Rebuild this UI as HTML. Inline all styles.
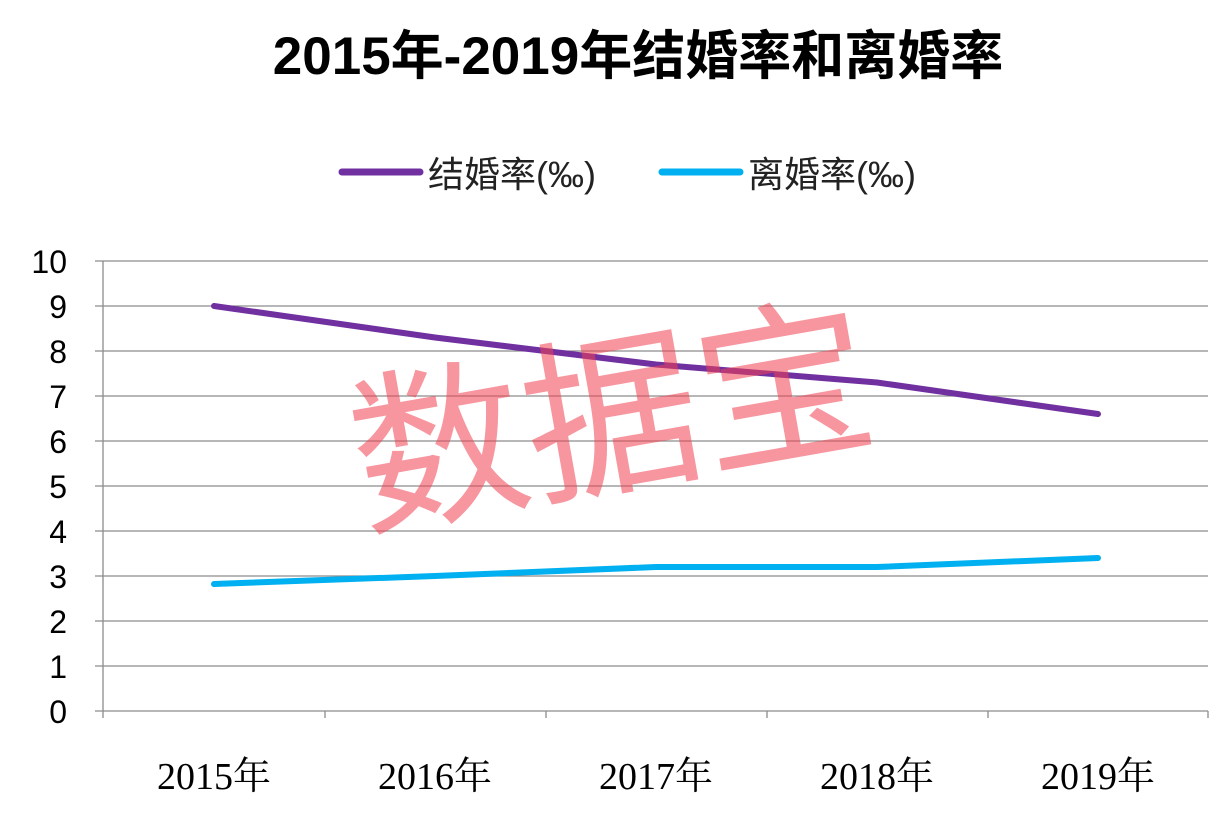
<!DOCTYPE html>
<html><head><meta charset="utf-8"><style>
body{margin:0;background:#fff;}
svg{display:block;}
</style></head><body>
<svg width="1224" height="818" xmlns="http://www.w3.org/2000/svg">
<rect width="1224" height="818" fill="#fff"/>
<text x="638" y="74" text-anchor="middle" font-family="Liberation Sans, Noto Sans CJK SC, sans-serif" font-weight="bold" font-size="53" fill="#000">2015年-2019年结婚率和离婚率</text>
<line x1="342" y1="172" x2="420" y2="172" stroke="#7030a0" stroke-width="7" stroke-linecap="round"/>
<text x="428" y="187" font-family="Liberation Sans, Noto Sans CJK SC, sans-serif" font-size="36" fill="#222">结婚率(‰)</text>
<line x1="662" y1="172" x2="740" y2="172" stroke="#00b0f0" stroke-width="7" stroke-linecap="round"/>
<text x="748" y="187" font-family="Liberation Sans, Noto Sans CJK SC, sans-serif" font-size="36" fill="#222">离婚率(‰)</text>
<g stroke="#8c8c8c" stroke-width="1.3">
<line x1="95" y1="261" x2="1208" y2="261"/><line x1="95" y1="306" x2="1208" y2="306"/>
<line x1="95" y1="351" x2="1208" y2="351"/><line x1="95" y1="396" x2="1208" y2="396"/>
<line x1="95" y1="441" x2="1208" y2="441"/><line x1="95" y1="486" x2="1208" y2="486"/>
<line x1="95" y1="531" x2="1208" y2="531"/><line x1="95" y1="576" x2="1208" y2="576"/>
<line x1="95" y1="621" x2="1208" y2="621"/><line x1="95" y1="666" x2="1208" y2="666"/>
<line x1="95" y1="711" x2="1208" y2="711"/>
<line x1="103" y1="261" x2="103" y2="718"/>
<line x1="325" y1="711" x2="325" y2="718"/><line x1="546" y1="711" x2="546" y2="718"/>
<line x1="767" y1="711" x2="767" y2="718"/><line x1="988" y1="711" x2="988" y2="718"/>
<line x1="1208" y1="711" x2="1208" y2="718"/>
</g>
<g font-family="Liberation Sans, sans-serif" font-size="32" fill="#000" text-anchor="end">
<text x="67" y="273">10</text><text x="67" y="318">9</text><text x="67" y="363">8</text>
<text x="67" y="408">7</text><text x="67" y="453">6</text><text x="67" y="498">5</text>
<text x="67" y="543">4</text><text x="67" y="588">3</text><text x="67" y="633">2</text>
<text x="67" y="678">1</text><text x="67" y="723">0</text>
</g>
<g font-family="Liberation Serif, Noto Serif CJK SC, serif" font-size="38" fill="#000" text-anchor="middle">
<text x="214" y="789">2015年</text><text x="435" y="789">2016年</text><text x="656" y="789">2017年</text>
<text x="877" y="789">2018年</text><text x="1098" y="789">2019年</text>
</g>
<polyline points="214,306 435,337.5 656,364.5 877,382.5 1098,414" fill="none" stroke="#7030a0" stroke-width="6" stroke-linejoin="round" stroke-linecap="round"/>
<polyline points="214,584 435,576 656,567 877,567 1098,558" fill="none" stroke="#00b0f0" stroke-width="6" stroke-linejoin="round" stroke-linecap="round"/>
<text x="612" y="480" text-anchor="middle" transform="rotate(-10 612 420)" font-family="Noto Sans CJK SC, sans-serif" font-size="175" fill="#f04050" fill-opacity="0.55">数据宝</text>
</svg>
</body></html>
